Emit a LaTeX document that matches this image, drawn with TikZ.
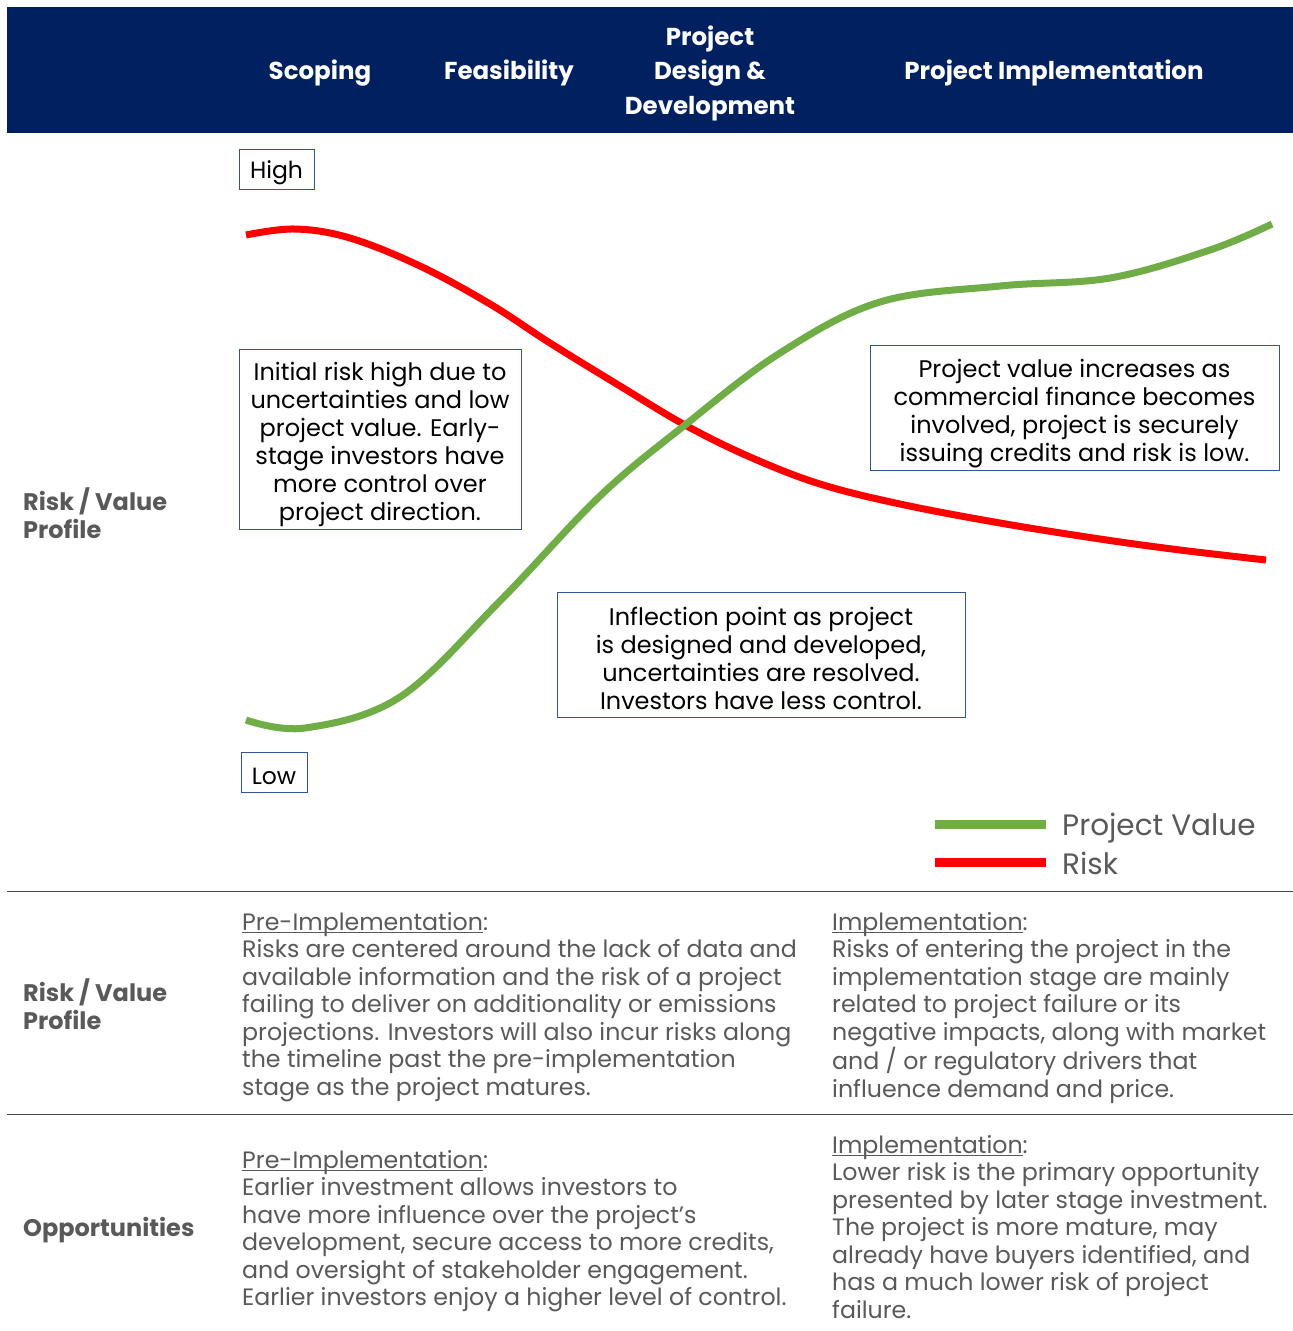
\documentclass[tikz,border=0pt]{standalone}
\usepackage{fontspec}
\setmainfont{Poppins}
\definecolor{navy}{HTML}{002060}
\definecolor{boxblue}{HTML}{2F5597}
\definecolor{txtgray}{HTML}{595959}
\definecolor{vgreen}{HTML}{70AD47}
\definecolor{rred}{HTML}{FF0000}
\newcommand\ulx[1]{\setbox0\hbox{#1}\rlap{\rule[-3pt]{\wd0}{0.9pt}}\box0}
\begin{document}
\begin{tikzpicture}[x=1pt,y=-1pt,
  hdr/.style={text=white,font=\bfseries\fontsize{24.5}{34.5}\selectfont,align=center,inner sep=0pt},
  lbl/.style={text=txtgray,font=\bfseries\fontsize{24}{28}\selectfont,align=left,anchor=west,inner sep=0pt},
  frame/.style={draw=boxblue,line width=0.9pt,inner sep=0pt},
  tagtxt/.style={text=black,font=\fontsize{23.5}{28}\selectfont,inner sep=0pt},
  notetxt/.style={text=black,font=\fontsize{24}{28}\selectfont,align=center,inner sep=0pt},
  para/.style={text=txtgray,font=\fontsize{23.7}{27.5}\selectfont,align=left,anchor=north west,inner sep=0pt},
  curve/.style={line width=7pt},
  legtxt/.style={text=txtgray,font=\fontsize{29.5}{34}\selectfont,anchor=west,inner sep=0pt},
  rule/.style={draw=txtgray!80!black,line width=1pt}]
\useasboundingbox (0,0) rectangle (1293,1331);
\fill[navy] (7,7) rectangle (1293,133);
\node[hdr] (h1) at (320,73) {Scoping};
\node[hdr] (h2) at (509,73) {Feasibility};
\node[hdr] (h3) at (710,73) {Project\\Design \&\\Development};
\node[hdr] (h4) at (1054,73) {Project Implementation};
% curves
\draw[rred,curve,line cap=butt] plot[smooth,tension=0.6] coordinates {(246,235) (295,229) (350,238) (420,266) (490,304) (550,343) (620,386) (685,425) (750,457) (820,484) (900,504) (1000,523) (1100,539) (1180,550) (1266,560)};
\draw[vgreen,curve] plot[smooth,tension=0.6] coordinates {(246,720) (305,728) (400,697) (500,601) (600,496) (685,425) (780,353) (880,302) (1000,286) (1110,278) (1210,250) (1272,224)};
% tags
\node[frame,minimum width=75,minimum height=40] (highbox) at (276.5,169) {};
\node[tagtxt] (high) at (276.5,173) {High};
\node[frame,minimum width=66,minimum height=40] (lowbox) at (274,772) {};
\node[tagtxt] (low) at (274,776.5) {Low};
% notes
\node[frame,minimum width=282,minimum height=180] (n1box) at (380,439) {};
\node[notetxt] (n1) at (380,444.5) {Initial risk high due to\\uncertainties and low\\project value. Early-\\stage investors have\\more control over\\project direction.};
\node[frame,minimum width=408,minimum height=125] (n2box) at (761,654.5) {};
\node[notetxt] (n2) at (761,658) {Inflection point as project\\is designed and developed,\\uncertainties are resolved.\\Investors have less control.};
\node[frame,minimum width=409,minimum height=125] (n3box) at (1074.5,407.5) {};
\node[notetxt] (n3) at (1074.5,414) {Project value increases as\\commercial finance becomes\\involved, project is securely\\issuing credits and risk is low.};
% legend
\coordinate (lg1) at (935,824); \coordinate (lg2) at (1046,824);
\coordinate (lr1) at (935,862); \coordinate (lr2) at (1046,862);
\draw[vgreen,line width=9pt] (lg1) -- (lg2);
\draw[rred,line width=9pt] (lr1) -- (lr2);
\node[legtxt] (lv) at (1062,828) {Project Value};
\node[legtxt] (lrk) at (1062,863) {Risk};
% left labels
\node[lbl] (l1) at (23,513) {Risk / Value\\Profile};
\node[lbl] (l2) at (23,1004) {Risk / Value\\Profile};
\node[lbl] (l3) at (23,1230) {Opportunities};
% rules
\coordinate (r1a) at (7,891); \coordinate (r1b) at (1293,891);
\coordinate (r2a) at (7,1114); \coordinate (r2b) at (1293,1114);
\draw[rule] (r1a) -- (r1b);
\draw[rule] (r2a) -- (r2b);
% paragraphs
\node[para] (p1) at (242,912) {\ulx{Pre-Implementation}:\\Risks are centered around the lack of data and\\available information and the risk of a project\\failing to deliver on additionality or emissions\\projections. Investors will also incur risks along\\the timeline past the pre-implementation\\stage as the project matures.};
\node[para] (p2) at (832,912) {\ulx{Implementation}:\\Risks of entering the project in the\\implementation stage are mainly\\related to project failure or its\\negative impacts, along with market\\and / or regulatory drivers that\\influence demand and price.};
\node[para] (p3) at (242,1150) {\ulx{Pre-Implementation}:\\Earlier investment allows investors to\\have more influence over the project’s\\development, secure access to more credits,\\and oversight of stakeholder engagement.\\Earlier investors enjoy a higher level of control.};
\node[para] (p4) at (832,1135) {\ulx{Implementation}:\\Lower risk is the primary opportunity\\presented by later stage investment.\\The project is more mature, may\\already have buyers identified, and\\has a much lower risk of project\\failure.};
\end{tikzpicture}
\end{document}
